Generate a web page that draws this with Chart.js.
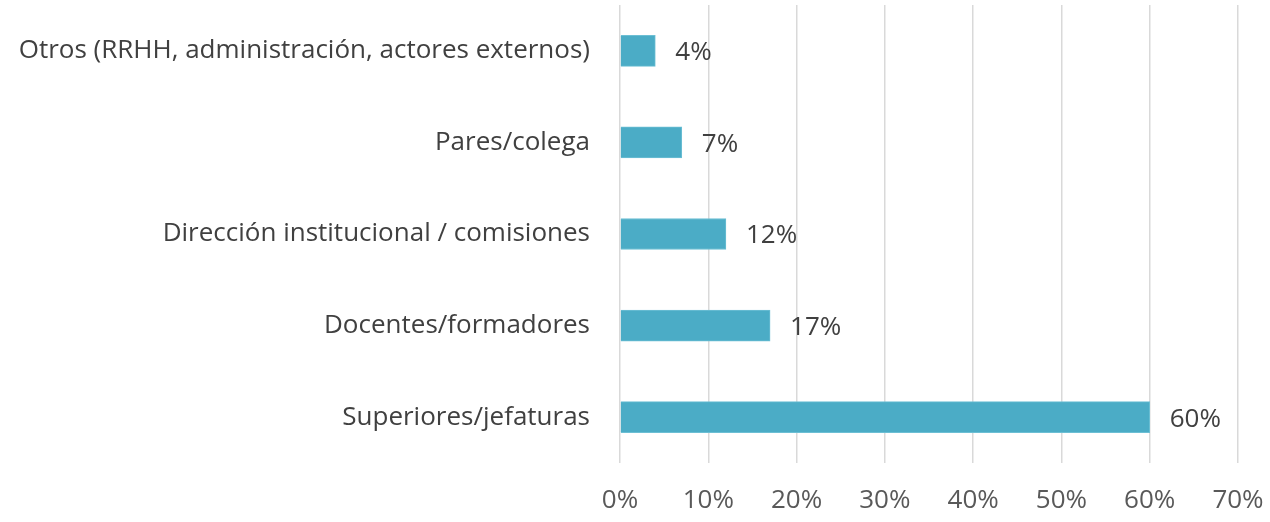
<!DOCTYPE html>
<html>
<head>
<meta charset="utf-8">
<script src="https://cdn.jsdelivr.net/npm/chart.js@4"></script>
<style>
  body { margin: 0; background: #fff; }
  #wrap { width: 1270px; height: 522px; }
</style>
</head>
<body>
<div id="wrap"><canvas id="chart" width="1270" height="522"></canvas></div>
<script>
// Data
const categories = [
  'Otros (RRHH, administración, actores externos)',
  'Pares/colega',
  'Dirección institucional / comisiones',
  'Docentes/formadores',
  'Superiores/jefaturas'
];
const values = [4, 7, 12, 17, 60];
const tickValues = [0, 10, 20, 30, 40, 50, 60, 70];

const FONT = '"Open Sans", Lato, sans-serif';

// draw value labels at the end of each bar
const valueLabels = {
  id: 'valueLabels',
  afterDatasetsDraw(chart) {
    const ctx = chart.ctx;
    const meta = chart.getDatasetMeta(0);
    ctx.save();
    ctx.font = '26px ' + FONT;
    ctx.fillStyle = '#404040';
    ctx.textAlign = 'left';
    ctx.textBaseline = 'middle';
    meta.data.forEach((bar, i) => {
      ctx.fillText(values[i] + '%', bar.x + 20, bar.y + 2);
    });
    ctx.restore();
  }
};

new Chart(document.getElementById('chart'), {
  type: 'bar',
  data: {
    labels: categories,
    datasets: [{
      data: values,
      backgroundColor: '#4bacc6',
      borderColor: '#6cbfd4',
      borderWidth: 1,
      barThickness: 31
    }]
  },
  options: {
    indexAxis: 'y',
    responsive: false,
    animation: false,
    layout: { padding: { top: 5, right: 32, left: 0, bottom: 0 } },
    plugins: {
      legend: { display: false },
      tooltip: { enabled: false }
    },
    scales: {
      x: {
        min: 0,
        max: 70,
        afterBuildTicks(scale) {
          scale.ticks = tickValues.map(v => ({ value: v }));
        },
        afterFit(scale) {
          scale.height = 59;
          scale.paddingLeft = 0;
          scale.paddingRight = 0;
        },
        grid: { color: '#d9d9d9', lineWidth: 1.5, drawTicks: false },
        border: { display: false },
        ticks: {
          padding: 22,
          color: '#595959',
          font: { family: FONT, size: 26 },
          callback: v => v + '%'
        }
      },
      y: {
        afterFit(scale) {
          scale.width = 620;
          scale.paddingTop = 0;
          scale.paddingBottom = 0;
        },
        grid: { display: false },
        border: { display: false },
        ticks: {
          padding: 22,
          color: '#404040',
          font: { family: FONT, size: 26 }
        }
      }
    }
  },
  plugins: [valueLabels]
});
</script>
</body>
</html>
